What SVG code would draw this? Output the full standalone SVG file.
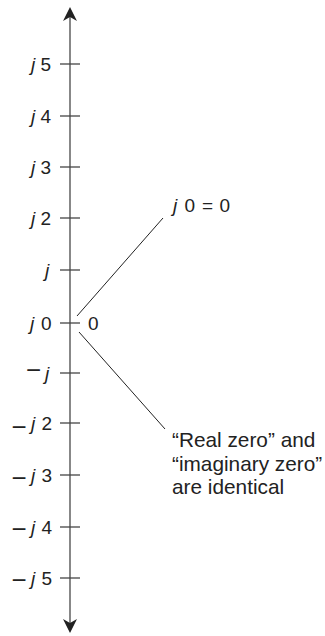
<svg xmlns="http://www.w3.org/2000/svg" width="325" height="636" viewBox="0 0 325 636">
<style>
.lbl{font-family:"Liberation Sans",Arial,sans-serif;font-size:19px;fill:#222;}
.it{font-style:italic;}
.mn{font-family:"Liberation Sans",Arial,sans-serif;font-size:26px;fill:#222;}
.note{font-family:"Liberation Sans",Arial,sans-serif;font-size:20.8px;fill:#222;}
.tick{stroke:#444;stroke-width:1.3;}
.conn{stroke:#222;stroke-width:1;fill:none;}
</style>
<rect width="325" height="636" fill="#fff"/>
<g id="axis">
<line x1="70" y1="15" x2="70" y2="625" stroke="#555" stroke-width="1.4"/>
<path d="M70,7 L77,21 L70,17 L63,21 Z" fill="#222"/>
<path d="M70,633 L77,619 L70,623 L63,619 Z" fill="#222"/>
</g>
<g id="ticks">
<line class="tick" x1="60" y1="64" x2="80" y2="64"/>
<line class="tick" x1="60" y1="116" x2="80" y2="116"/>
<line class="tick" x1="60" y1="167" x2="80" y2="167"/>
<line class="tick" x1="60" y1="218" x2="80" y2="218"/>
<line class="tick" x1="60" y1="270" x2="80" y2="270"/>
<line class="tick" x1="60" y1="323" x2="80" y2="323"/>
<line class="tick" x1="60" y1="373" x2="80" y2="373"/>
<line class="tick" x1="60" y1="423" x2="80" y2="423"/>
<line class="tick" x1="60" y1="475" x2="80" y2="475"/>
<line class="tick" x1="60" y1="527" x2="80" y2="527"/>
<line class="tick" x1="60" y1="578" x2="80" y2="578"/>
</g>
<g id="labels" class="lbl">
<text y="71"><tspan class="it" x="31">j</tspan><tspan x="40.5">5</tspan></text>
<text y="123"><tspan class="it" x="31">j</tspan><tspan x="40.5">4</tspan></text>
<text y="174"><tspan class="it" x="31">j</tspan><tspan x="40.5">3</tspan></text>
<text y="225"><tspan class="it" x="31">j</tspan><tspan x="40.5">2</tspan></text>
<text y="277"><tspan class="it" x="45">j</tspan></text>
<text y="330"><tspan class="it" x="30">j</tspan><tspan x="41">0</tspan></text>
<text y="380"><tspan class="mn" x="26" dy="-1">−</tspan><tspan class="it" x="45" dy="1">j</tspan></text>
<text y="430"><tspan class="mn" x="11.5" dy="5.5">−</tspan><tspan class="it" x="31" dy="-5.5">j</tspan><tspan x="41.5">2</tspan></text>
<text y="482"><tspan class="mn" x="11.5" dy="4.5">−</tspan><tspan class="it" x="31" dy="-4.5">j</tspan><tspan x="41.5">3</tspan></text>
<text y="534"><tspan class="mn" x="11.5" dy="4">−</tspan><tspan class="it" x="31" dy="-4">j</tspan><tspan x="41.5">4</tspan></text>
<text y="585"><tspan class="mn" x="11.5" dy="3.5">−</tspan><tspan class="it" x="31" dy="-3.5">j</tspan><tspan x="41.5">5</tspan></text>
</g>
<g id="zero-label">
<text class="lbl" x="88" y="330">0</text>
</g>
<g id="connectors">
<line class="conn" x1="77" y1="316" x2="163" y2="218"/>
<line class="conn" x1="79" y1="332" x2="165" y2="429"/>
</g>
<g id="note-j0">
<text class="lbl" y="212"><tspan class="it" x="173">j</tspan><tspan x="184.5">0</tspan><tspan x="202">=</tspan><tspan x="219.5">0</tspan></text>
</g>
<g id="note-identical" class="note">
<text x="172" y="447">“Real zero” and</text>
<text x="172" y="470.5">“imaginary zero”</text>
<text x="172" y="494">are identical</text>
</g>
</svg>
